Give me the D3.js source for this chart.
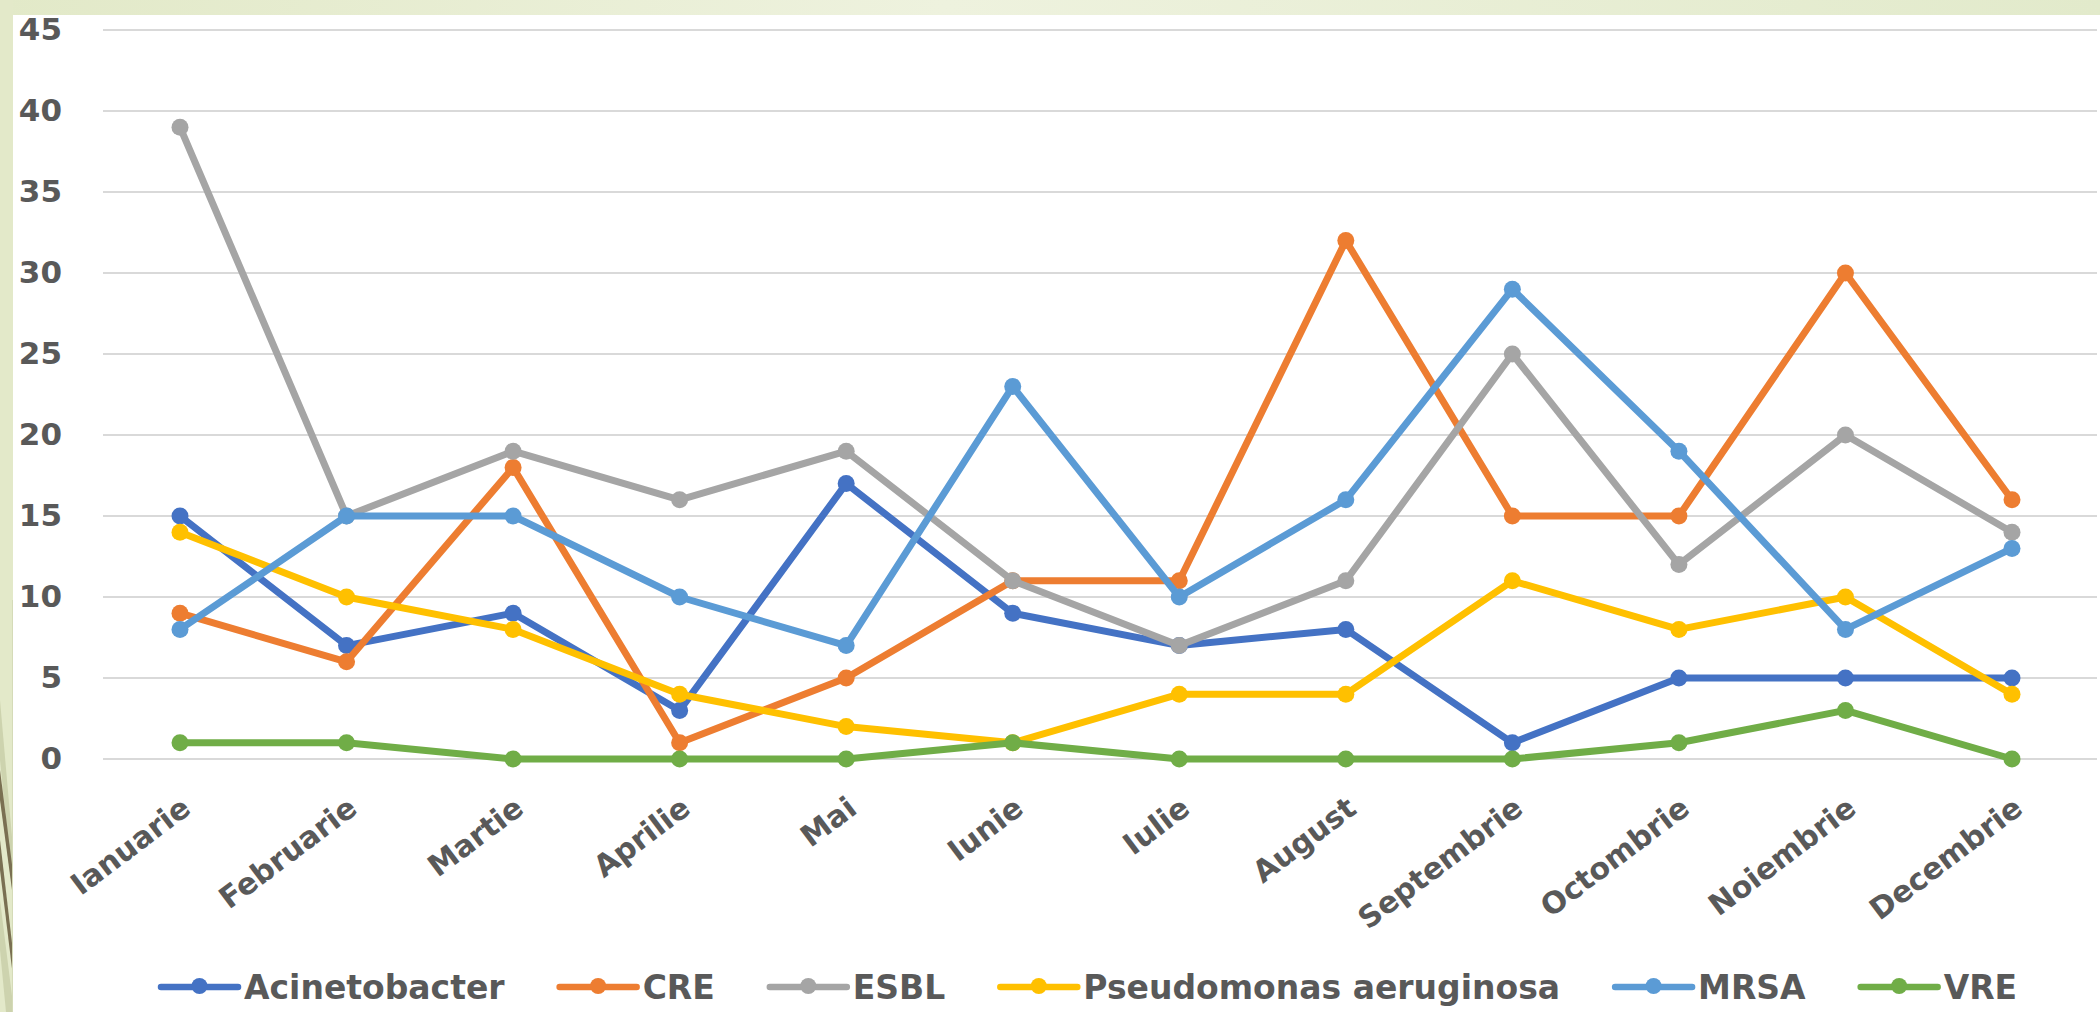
<!DOCTYPE html>
<html>
<head>
<meta charset="utf-8">
<script src="https://cdn.jsdelivr.net/npm/d3@7/dist/d3.min.js"></script>
<style>
  html, body { margin: 0; padding: 0; background: #ffffff; }
  svg { display: block; }
  text { font-family: "DejaVu Sans", Verdana, sans-serif; font-weight: bold; fill: #595959; }
</style>
</head>
<body>
<svg id="chart" width="2100" height="1012"></svg>
<script>
const months = ["Ianuarie","Februarie","Martie","Aprilie","Mai","Iunie","Iulie","August","Septembrie","Octombrie","Noiembrie","Decembrie"];
const seriesNames = ["Acinetobacter","CRE","ESBL","Pseudomonas aeruginosa","MRSA","VRE"];
const seriesColors = ["#4472C4","#ED7D31","#A5A5A5","#FFC000","#5B9BD5","#70AD47"];
const acinetobacter = [15,7,9,3,17,9,7,8,1,5,5,5];
const cre           = [9,6,18,1,5,11,11,32,15,15,30,16];
const esbl          = [39,15,19,16,19,11,7,11,25,12,20,14];
const pseudomonas   = [14,10,8,4,2,1,4,4,11,8,10,4];
const mrsa          = [8,15,15,10,7,23,10,16,29,19,8,13];
const vre           = [1,1,0,0,0,1,0,0,0,1,3,0];
const seriesValues = [acinetobacter, cre, esbl, pseudomonas, mrsa, vre];
const yTicks = [0,5,10,15,20,25,30,35,40,45];

const W = 2100, H = 1012;
const svg = d3.select("#chart");

// background decoration
const defs = svg.append("defs");
const g1 = defs.append("linearGradient").attr("id","topband").attr("x1","0").attr("x2","1");
g1.append("stop").attr("offset","0").attr("stop-color","#E2E9C8");
g1.append("stop").attr("offset","0.45").attr("stop-color","#EEF2DE");
g1.append("stop").attr("offset","1").attr("stop-color","#E2EACB");
svg.append("rect").attr("x",0).attr("y",0).attr("width",W).attr("height",H).attr("fill","#ffffff");
svg.append("rect").attr("x",0).attr("y",0).attr("width",W).attr("height",15).attr("fill","url(#topband)");
svg.append("rect").attr("x",0).attr("y",0).attr("width",13).attr("height",H).attr("fill","#E3E9C9");
defs.append("clipPath").attr("id","leftclip").append("rect").attr("x",0).attr("y",0).attr("width",13).attr("height",H);
const deco = svg.append("g").attr("clip-path","url(#leftclip)");
deco.append("path").attr("d","M0,700 L14,860 L14,900 L0,760 Z").attr("fill","#CDD3AE");
deco.append("path").attr("d","M0,770 L14,880 L14,905 L0,800 Z").attr("fill","#7A7052");
deco.append("path").attr("d","M0,840 L14,960 L14,985 L0,870 Z").attr("fill","#7A7052");
deco.append("path").attr("d","M0,900 L14,1012 L6,1012 L0,950 Z").attr("fill","#CDD3AE");
deco.append("path").attr("d","M12,600 L14,600 L14,1012 L12,1012 Z").attr("fill","#D5DBB8");

// scales
const x = d3.scalePoint().domain(months).range([180, 2012]);
const y = d3.scaleLinear().domain([0,45]).range([759, 30]);
const gridX0 = 103, gridX1 = 2097;

// gridlines
svg.append("g").selectAll("line").data(yTicks).join("line")
  .attr("x1", gridX0).attr("x2", gridX1)
  .attr("y1", d => y(d)).attr("y2", d => y(d))
  .attr("stroke", "#D9D9D9").attr("stroke-width", 2);

// y axis labels
const yAxis = d3.axisLeft(y).tickValues(yTicks).tickSize(0).tickPadding(0);
const yg = svg.append("g").attr("transform","translate(62,0)").call(yAxis);
yg.select(".domain").remove();
yg.selectAll("text").attr("font-size", 31).attr("fill","#595959")
  .attr("font-family", "'DejaVu Sans', Verdana, sans-serif").attr("font-weight","bold");

// x axis labels
const xAxis = d3.axisBottom(x).tickSize(0).tickPadding(0);
const xg = svg.append("g").attr("transform","translate(0,759)").call(xAxis);
xg.select(".domain").remove();
xg.selectAll("text")
  .attr("font-size", 30).attr("fill","#595959")
  .attr("font-family", "'DejaVu Sans', Verdana, sans-serif").attr("font-weight","bold")
  .attr("text-anchor","end")
  .attr("dy", null).attr("y", null)
  .attr("transform","translate(12,53) rotate(-37)");

// lines
const line = d3.line().x((d,i) => x(months[i])).y(d => y(d));
const series = seriesNames.map((name, k) => ({name, color: seriesColors[k], values: seriesValues[k]}));
const sg = svg.append("g").selectAll("g").data(series).join("g");
sg.append("path")
  .attr("d", d => line(d.values))
  .attr("fill","none").attr("stroke", d => d.color)
  .attr("stroke-width", 7).attr("stroke-linejoin","round").attr("stroke-linecap","round");
sg.selectAll("circle").data(d => d.values.map((v,i) => ({v, i, color: d.color}))).join("circle")
  .attr("cx", d => x(months[d.i])).attr("cy", d => y(d.v))
  .attr("r", 8.5).attr("fill", d => d.color);

// legend
const legend = svg.append("g");
let lx = 161;
const ly = 987;
series.forEach(s => {
  const it = legend.append("g");
  it.append("line").attr("x1", lx).attr("x2", lx + 77).attr("y1", ly).attr("y2", ly)
    .attr("stroke", s.color).attr("stroke-width", 6.5).attr("stroke-linecap","round");
  it.append("circle").attr("cx", lx + 38.5).attr("cy", ly - 1).attr("r", 8).attr("fill", s.color);
  const t = it.append("text").attr("x", lx + 83).attr("y", ly + 12)
    .attr("font-size", 33).text(s.name);
  const w = t.node().getComputedTextLength();
  lx = lx + 83 + w + 55;
});
</script>
</body>
</html>
